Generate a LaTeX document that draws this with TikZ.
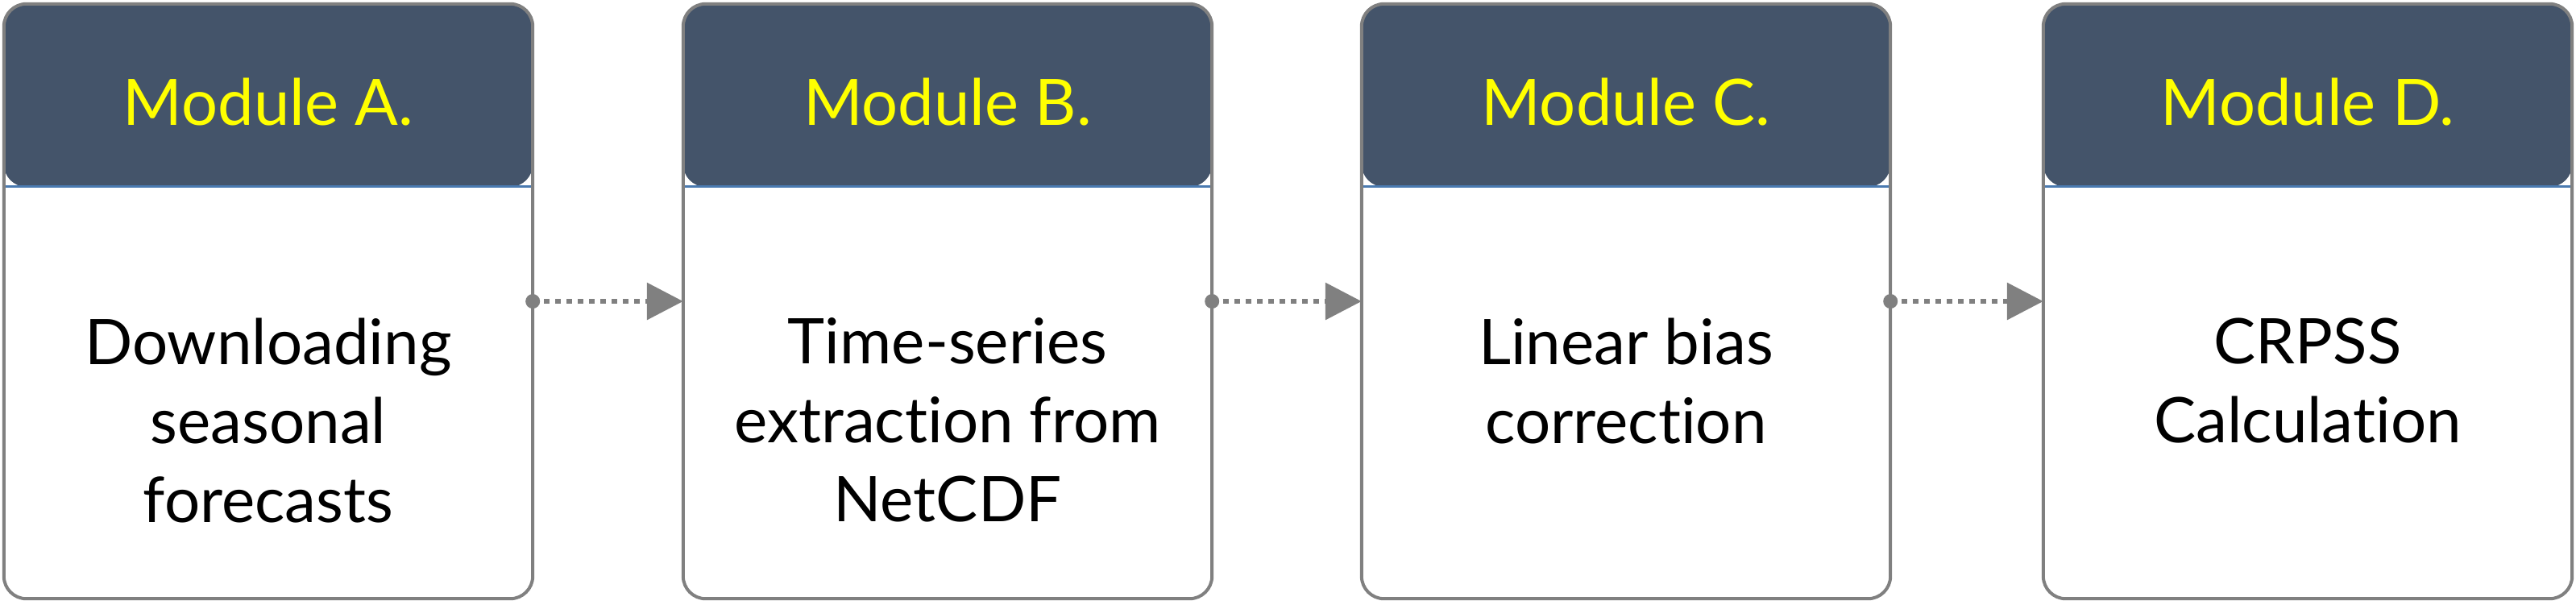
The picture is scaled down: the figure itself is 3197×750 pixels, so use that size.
\documentclass[tikz,border=0pt]{standalone}
\usepackage{fontspec}
\setmainfont{Lato}[Ligatures={NoCommon,NoRare,NoContextual}]
\usetikzlibrary{arrows.meta}
\definecolor{hdr}{HTML}{44546A}
\definecolor{hdrline}{HTML}{4A7AB0}
\definecolor{edgegray}{HTML}{808080}
\definecolor{hdryellow}{HTML}{FFFF00}
\tikzset{
  modbox/.style={draw=edgegray, line width=0.04cm, rounded corners=0.28cm,
    minimum width=6.56cm, minimum height=7.38cm, inner sep=0pt, outer sep=0pt, fill=white,
    path picture={
      \fill[hdr] ([yshift=0.5cm]path picture bounding box.north west) rectangle ([yshift=-2.27cm]path picture bounding box.north east);
      \draw[hdrline, line width=0.03cm] ([yshift=-2.27cm]path picture bounding box.north west) -- ([yshift=-2.27cm]path picture bounding box.north east);
    }},
  hdrtext/.style={text=hdryellow, font=\fontsize{22.6pt}{27pt}\selectfont, inner sep=0pt, anchor=base},
  bodytext/.style={text=black, font=\fontsize{22.2pt}{27.9pt}\selectfont, inner sep=0pt, anchor=north, align=center},
  conn/.style={draw=edgegray, line width=0.065cm, dash pattern=on 0.065cm off 0.075cm,
    -{Triangle[length=0.45cm, width=0.45cm, fill=edgegray]}},
  dotstart/.style={fill=edgegray}
}
\begin{document}
\begin{tikzpicture}[x=0.01cm, y=-0.01cm]
\useasboundingbox (0,0) rectangle (3197,750);
\node[modbox] (A) at (333,374) {};
\node[modbox] (B) at (1176,374) {};
\node[modbox] (C) at (2018,374) {};
\node[modbox] (D) at (2864,374) {};

\node[hdrtext] (hA) at (333,155) {Module A.};
\node[hdrtext] (hB) at (1176,155) {Module B.};
\node[hdrtext] (hC) at (2018,155) {Module C.};
\node[hdrtext] (hD) at (2864,155) {Module D.};

\node[bodytext] (tA) at (333,394) {Downloading\\seasonal\\forecasts};
\node[bodytext] (tB) at (1176,394) {Time-series\\extraction from\\NetCDF};
\node[bodytext] (tC) at (2018,394) {Linear bias\\correction};
\node[bodytext] (tD) at (2864,394) {CRPSS\\Calculation};

\draw[conn] (A.east) -- (B.west);
\draw[conn] (B.east) -- (C.west);
\draw[conn] (C.east) -- (D.west);
\fill[dotstart] (A.east) circle (0.09cm);
\fill[dotstart] (B.east) circle (0.09cm);
\fill[dotstart] (C.east) circle (0.09cm);
\end{tikzpicture}
\end{document}
